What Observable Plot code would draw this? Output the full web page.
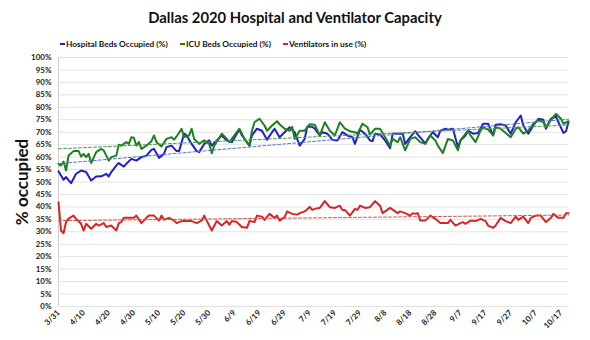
<!DOCTYPE html>
<html><head><meta charset="utf-8">
<script src="https://cdn.jsdelivr.net/npm/d3@7"></script>
<script src="https://cdn.jsdelivr.net/npm/@observablehq/plot@0.6"></script>
<style>
body{margin:0;background:#fff;font-family:Lato,"Open Sans",sans-serif;}
#wrap{position:relative;width:590px;height:340px;overflow:hidden;}
#title{position:absolute;left:0;top:8px;width:590px;text-align:center;font-size:14.8px;font-weight:bold;color:#111;}
.item{position:absolute;top:39px;font-size:8.3px;font-weight:bold;color:#111;display:flex;align-items:center;white-space:nowrap;}
.sw{width:5px;height:2px;margin-right:1px;}
#chart{position:absolute;left:0;top:50px;}
</style></head>
<body>
<div id="wrap">
  <div id="title"></div>
  <div id="legend"></div>
  <div id="chart"></div>
</div>
<script>
const titleText = "Dallas 2020 Hospital and Ventilator Capacity";
const seriesNames = ["Hospital Beds Occupied (%)", "ICU Beds Occupied (%)", "Ventilators in use (%)"];
const seriesColors = ["#2121c4", "#1f7f1f", "#d42626"];
const trendColors = ["#5577d4", "#4f9a4f", "#d85050"];
const yLabel = "% occupied";
const xTickLabels = ["3/31","4/10","4/20","4/30","5/10","5/20","5/30","6/9","6/19","6/29","7/9","7/19","7/29","8/8","8/18","8/28","9/7","9/17","9/27","10/7","10/17"];

// [day offset from 3/31, percent]
const hospitalBeds = [[0,54.3],[2,50.9],[3,52],[5,49.5],[7,53.3],[9,54.6],[11,54],[13,50.6],[15,52.2],[17,52.3],[19,53.3],[20,52.2],[21,54],[23,56.6],[24,57.6],[26,56.2],[27,57.3],[29,59.3],[31,58.6],[33,60],[35,60.6],[37,62.9],[38,63.3],[40,59.7],[42,61.3],[43,64],[45,64.6],[47,62.4],[48,62.4],[50,69.4],[51,68.7],[53,65.3],[55,62.4],[56,62],[58,65.3],[60,66.7],[61,64.6],[63,66.7],[65,68.7],[67,66.7],[69,66],[71,69.4],[72,71],[73,68.7],[76,64.6],[77,68.7],[79,71.4],[81,70.6],[83,67],[85,70],[86,71.4],[88,68],[90,70],[92,72],[94,70],[96,64.6],[98,67.3],[99,72.2],[101,72.2],[102,71.4],[104,68.7],[105,70],[107,69.4],[109,67],[111,66.7],[113,70],[115,68.7],[117,68],[118,65.3],[120,71],[122,69.4],[124,66.7],[125,66.4],[126,69.4],[128,69],[130,66.7],[132,63.6],[133,69.4],[135,69.4],[137,69.4],[138,65.3],[140,68],[142,70.4],[143,69],[146,65.5],[147,67.3],[149,70],[151,68],[152,70.6],[154,71.4],[155,71],[157,71.4],[159,64],[160,66.7],[162,68.7],[163,70.6],[165,69.4],[167,69.7],[169,73.4],[171,73.4],[173,68.7],[174,73],[176,73.2],[178,72.7],[180,69.4],[182,74],[184,76.7],[185,72.7],[187,69.4],[189,72.7],[191,75.4],[193,75],[194,71.4],[196,75.4],[198,76.3],[199,74],[201,69.7],[202,70.4],[203,74]];

const icuBeds = [[0,57.3],[1,56.6],[2,58.2],[3,54.6],[4,60.6],[6,62.4],[8,62.4],[9,60.2],[10,61.3],[11,60],[12,61.3],[13,57.6],[15,62],[17,63.3],[18,62.7],[20,58.6],[21,60],[23,60.6],[24,65],[25,64.6],[27,66],[28,65.3],[29,68],[30,67.8],[31,64.6],[32,66],[33,63.3],[35,64.6],[37,66.4],[38,68.7],[39,66],[41,64.3],[43,67.3],[45,68],[46,67],[47,68.3],[49,71.4],[50,68],[52,68.7],[53,71.4],[54,67.3],[56,65.3],[58,66.7],[60,65.3],[61,61.6],[62,64.6],[64,67.8],[65,69.4],[67,67.3],[68,66],[70,68.7],[72,71.4],[73,69.4],[74,67.3],[76,64.6],[77,70.6],[78,74],[80,75.4],[82,72.7],[83,70.6],[85,72.7],[87,74.4],[88,73.2],[90,71.4],[92,70.6],[93,72.2],[94,67.3],[96,70.6],[98,70.6],[100,73.2],[102,73],[104,68.7],[106,74],[108,70.6],[110,68.7],[112,74],[114,71.4],[116,70.4],[118,70],[119,69.4],[121,73.4],[123,72],[124,69],[126,71.4],[128,71.4],[130,68],[132,64.6],[133,67.3],[135,66],[136,68],[138,62.7],[140,67.3],[142,68],[144,66],[146,65.3],[148,68.7],[150,66.7],[151,64.6],[153,61.6],[155,67.3],[157,66.7],[159,62.7],[160,66.7],[163,70.6],[164,68.7],[166,66],[168,70.6],[169,72],[171,71],[173,68.7],[174,72],[176,71.4],[178,69.7],[180,68],[182,71.4],[183,72],[185,69.4],[187,70.6],[189,73.4],[191,74.9],[193,74],[194,72],[196,74.9],[198,77.4],[200,75.4],[201,73.4],[203,74.4]];

const ventilators = [[0,41.9],[1,30.5],[2,29.4],[3,33.9],[4,35.3],[6,36.5],[7,35.2],[9,33.2],[10,30.5],[11,33.2],[13,31.2],[15,33.2],[16,32.5],[18,33.5],[19,31.9],[21,32.5],[23,30.5],[24,33.5],[25,33.9],[26,35.6],[28,35.6],[30,35.6],[31,36.5],[33,33.5],[35,35.6],[36,36.5],[38,36.5],[40,34.5],[41,36.5],[42,34.8],[44,35.6],[46,34.5],[47,33.5],[49,34.3],[51,34.3],[53,34.3],[55,33.5],[57,34.5],[58,36.5],[59,34.5],[61,30.5],[63,34.3],[65,32.5],[67,34.3],[68,32.9],[69,34.3],[71,33.9],[73,31.9],[75,31.6],[76,34.3],[78,33.9],[79,36.5],[81,36.1],[82,34.8],[84,37.2],[86,35.6],[87,36.5],[88,34.5],[90,35.9],[91,38.2],[93,37.2],[95,36.9],[96,37.5],[98,38.2],[100,40],[101,38.8],[103,39.5],[104,39.6],[106,42.3],[108,39.9],[110,39.6],[112,40.5],[113,38.8],[114,38.8],[116,36.5],[118,39.2],[119,38.8],[120,40.5],[122,39.6],[124,39.9],[126,42.3],[128,40.5],[129,37.5],[132,39.6],[134,38.2],[135,37.5],[136,38.2],[138,37.5],[140,36.5],[141,37.5],[142,37.2],[143,37.5],[144,34.5],[146,34.5],[148,36.5],[150,35.2],[152,33.5],[155,33.5],[156,34.8],[158,32.5],[160,33.5],[161,33.9],[162,33.2],[164,34.5],[166,34.3],[168,35.2],[170,34.3],[171,32.5],[173,31.6],[174,32.5],[176,35.6],[178,34.3],[180,33.5],[182,36.1],[183,34.8],[185,36.1],[187,33.5],[188,35.6],[190,36.5],[192,36.5],[194,33.9],[196,35.6],[197,37.2],[199,35.6],[201,35.6],[202,37.5],[203,37.5]];

document.getElementById("title").textContent = titleText;
const legendX = [60, 180, 283];
const legend = document.getElementById("legend");
seriesNames.forEach((n, i) => {
  const it = document.createElement("div");
  it.className = "item";
  it.style.left = legendX[i] + "px";
  const sw = document.createElement("span");
  sw.className = "sw"; sw.style.background = seriesColors[i];
  it.appendChild(sw);
  it.appendChild(document.createTextNode(n));
  legend.appendChild(it);
});

const all = [hospitalBeds, icuBeds, ventilators];
const rows = all.map(s => s.map(([d, v]) => ({d, v})));
const tickDays = xTickLabels.map((_, i) => i * 10);
const tickMap = new Map(tickDays.map((d, i) => [d, xTickLabels[i]]));
const yTicks = d3.range(0, 101, 5);

const marks = [
  Plot.gridY(yTicks, {stroke: "#e3e3e3", strokeOpacity: 1}),
  Plot.ruleX([0], {stroke: "#cfcfcf"}),
  Plot.axisY(yTicks, {tickSize: 0, tickPadding: 7, tickFormat: d => d + "%", fontWeight: "bold", fontSize: 8, fill: "#222", label: null}),
  Plot.axisX(tickDays, {tickSize: 0, tickPadding: 5, tickRotate: -45, tickFormat: d => tickMap.get(d), fontWeight: "bold", fontSize: 8, fill: "#222", label: null}),
  Plot.text([yLabel], {frameAnchor: "left", textAnchor: "middle", dx: -36, rotate: -90, fontSize: 17, fontWeight: "bold", fill: "#111"})
];
rows.forEach((r, i) => {
  marks.push(Plot.lineY(r, {x: "d", y: "v", stroke: seriesColors[i], strokeWidth: 2}));
});
rows.forEach((r, i) => {
  marks.push(Plot.linearRegressionY(r, {x: "d", y: "v", stroke: trendColors[i], strokeWidth: 1, strokeDasharray: "3,2", ci: 0}));
});

const chart = Plot.plot({
  width: 590, height: 290,
  marginLeft: 58, marginRight: 22, marginTop: 7, marginBottom: 34,
  x: {domain: [0, 203], axis: null},
  y: {domain: [0, 100], axis: null},
  style: {fontFamily: "Lato, 'Open Sans', sans-serif", background: "transparent"},
  marks
});
document.getElementById("chart").appendChild(chart);
</script>
</body></html>
